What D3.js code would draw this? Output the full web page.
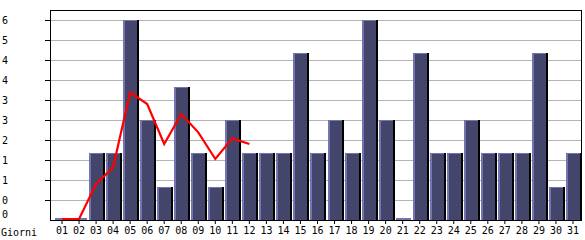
<!DOCTYPE html>
<html>
<head>
<meta charset="utf-8">
<script src="https://cdn.jsdelivr.net/npm/d3@7"></script>
<style>
  html, body { margin: 0; padding: 0; background: #fff; }
  svg text { font-family: "DejaVu Sans Mono", monospace; font-size: 10px; fill: #000; }
</style>
</head>
<body>
<div id="chart"></div>
<script>
// visite giornaliere + media (linea rossa, solo primi 12 giorni)
const days = ["01","02","03","04","05","06","07","08","09","10","11","12","13","14","15","16",
  "17","18","19","20","21","22","23","24","25","26","27","28","29","30","31"];
const visits = [0,0,2,2,6,3,1,4,2,1,3,2,2,2,5,2,3,2,6,3,0,5,2,2,3,2,2,2,5,1,2];
const trend = [0,0,1.05,1.55,3.8,3.45,2.25,3.15,2.6,1.8,2.42,2.25];
const yTicks = [0,0.6,1.2,1.8,2.4,3,3.6,4.2,4.8,5.4,6];
const yTickLabels = ["0","0","1","1","2","3","3","4","4","5","6"];
const xTitle = "Giorni";

const W = 585, H = 240;
const m = { left: 50, right: 4, top: 10, bottom: 20 };
const svg = d3.select("#chart").append("svg").attr("width", W).attr("height", H);

const x = d3.scaleBand().domain(days).range([53.5, 581.5]).padding(0);
const y = d3.scaleLinear().domain([0, 6]).range([H - m.bottom, m.top + 10]);
const base = y(0), step = x.step();

// griglia
svg.append("g").selectAll("line").data(yTicks.slice(1)).join("line")
  .attr("x1", m.left).attr("x2", W - m.right)
  .attr("y1", (d) => Math.round(y(d)) + 0.5).attr("y2", (d) => Math.round(y(d)) + 0.5)
  .attr("stroke", "#b4b4b4");

// barre con effetto 3D
const bars = svg.append("g").selectAll("g").data(days.map((d, i) => ({ d, v: visits[i] }))).join("g")
  .attr("transform", (p) => `translate(${Math.round(x(p.d) + 1.5)},0)`);
const bw = Math.round(step - 1.5);
bars.each(function (p) {
  const g = d3.select(this);
  const top = Math.round(y(p.v));
  if (p.v === 0) {
    g.append("rect").attr("x", 0).attr("y", base - 2).attr("width", bw - 1).attr("height", 2).attr("fill", "#7474b0");
    return;
  }
  g.append("rect").attr("x", 0).attr("y", top).attr("width", bw - 2).attr("height", base - top).attr("fill", "#43456b");
  g.append("rect").attr("x", 0).attr("y", top).attr("width", 2).attr("height", base - top).attr("fill", "#7474b0");
  g.append("rect").attr("x", 0).attr("y", top).attr("width", bw - 2).attr("height", 1).attr("fill", "#7474b0");
  g.append("rect").attr("x", bw - 2).attr("y", top).attr("width", 2).attr("height", base - top).attr("fill", "#000");
});

// linea media
const line = d3.line().x((d, i) => x(days[i]) + step / 2).y((d) => y(d) - 1);
svg.append("path").datum(trend).attr("fill", "none").attr("stroke", "#ff0000")
  .attr("stroke-width", 2.2).attr("d", line);

// assi
const ay = svg.append("g").attr("transform", `translate(${m.left},0)`)
  .call(d3.axisLeft(y).tickValues(yTicks.slice(1)).tickSize(5).tickSizeOuter(0)
    .tickFormat((d) => yTickLabels[yTicks.indexOf(d)]));
ay.select(".domain").remove();
ay.selectAll("text").attr("x", -48).attr("text-anchor", "start").style("font-size", null).attr("font-family", null);
svg.append("text").attr("x", 2).attr("y", base - 2).text(yTickLabels[0]);

const ax = svg.append("g").attr("transform", `translate(0,${base})`)
  .call(d3.axisBottom(x).tickSize(4).tickSizeOuter(0));
ax.select(".domain").remove();
ax.selectAll("text").attr("font-family", null).attr("font-size", null);
svg.selectAll(".tick line").attr("stroke", "#000");

svg.append("text").attr("x", 1).attr("y", 236).text(xTitle);

// cornice
svg.append("rect").attr("x", m.left + 0.5).attr("y", m.top + 0.5)
  .attr("width", W - m.right - m.left).attr("height", base - m.top)
  .attr("fill", "none").attr("stroke", "#000");
</script>
</body>
</html>
